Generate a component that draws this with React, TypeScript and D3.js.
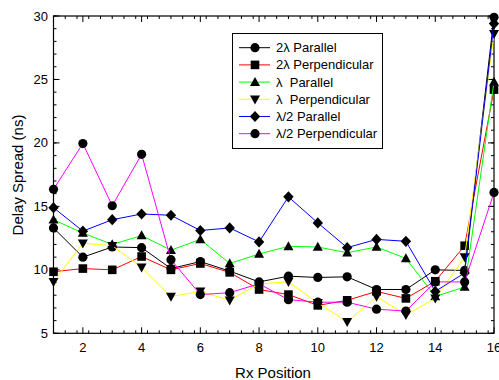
import React from "react";
import * as d3 from "d3";

const positions = [1, 2, 3, 4, 5, 6, 7, 8, 9, 10, 11, 12, 13, 14, 15, 16];
const par2 = [13.3, 11.0, 11.8, 11.75, 10.1, 10.65, 9.9, 9.05, 9.5, 9.4, 9.45, 8.45, 8.45, 10.0, 9.95, 29.9];
const perp2 = [9.85, 10.1, 10.0, 11.05, 10.0, 10.5, 9.8, 8.45, 8.05, 7.2, 7.6, 8.3, 7.75, 9.1, 11.9, 24.2];
const par1 = [13.95, 12.9, 12.0, 12.7, 11.55, 12.4, 10.5, 11.25, 11.85, 11.8, 11.35, 11.8, 10.9, 7.9, 8.65, 24.8];
const perp1 = [9.05, 12.1, 11.9, 10.2, 7.9, 8.3, 7.6, 8.9, 9.05, 7.4, 5.9, 7.9, 6.45, 7.75, 11.0, 28.6];
const parHalf = [14.9, 13.05, 13.95, 14.4, 14.3, 13.1, 13.3, 12.2, 15.75, 13.7, 11.75, 12.4, 12.25, 8.3, 9.75, 29.4];
const perpHalf = [16.35, 19.95, 15.05, 19.1, 10.8, 8.05, 8.2, 8.9, 7.65, 7.45, 7.45, 6.9, 6.75, 9.05, 9.05, 16.1];

const seriesNames = ["2λ Parallel", "2λ Perpendicular", "λ  Parallel", "λ  Perpendicular", "λ/2 Parallel", "λ/2 Perpendicular"];
const seriesValues = [par2, perp2, par1, perp1, parHalf, perpHalf];
const seriesColors = ["#000000", "#ff0000", "#00ff00", "#ffff00", "#0000ff", "#ff00ff"];
const seriesMarkers = ["circle", "square", "triUp", "triDown", "diamond", "circle"];

const xTicks = [2, 4, 6, 8, 10, 12, 14, 16];
const yTicks = [5, 10, 15, 20, 25, 30];

const L = 53.5, R = 494, T = 16, B = 333.3;

function markerPath(kind: string): string {
  switch (kind) {
    case "circle":
      return "M4.6,0A4.6,4.6 0 1,1 -4.6,0A4.6,4.6 0 1,1 4.6,0Z";
    case "square":
      return "M-4.3,-4.3H4.3V4.3H-4.3Z";
    case "triUp":
      return "M0,-5.2L5,3.8L-5,3.8Z";
    case "triDown":
      return "M0,5.2L5,-3.8L-5,-3.8Z";
    case "diamond":
      return "M0,-5.6L5.2,0L0,5.6L-5.2,0Z";
  }
  return "";
}

export default function App() {
  const x = d3.scaleLinear().domain([1, 16]).range([L, R]);
  const y = d3.scaleLinear().domain([5, 30]).range([B, T]);
  const line = d3
    .line<number>()
    .x((_, i) => x(positions[i]))
    .y((v) => y(v));

  const xMinor = d3.range(1, 16.0001, 0.4).map((v) => +v.toFixed(2));
  const yMinor = d3.range(5, 30.0001, 1);
  const font = "Arial, 'Liberation Sans', sans-serif";

  const legX = 232.5, legY = 33.5, legW = 150, legH = 115;
  const rowY = (i: number) => 47.7 + i * 17.2;

  return (
    <svg width={499} height={380} style={{ position: "absolute", left: 0, top: 0 }} fontFamily={font}>
      <rect x={0} y={0} width={499} height={380} fill="#fff" />
      {/* frame */}
      <rect x={L} y={T} width={R - L} height={B - T} fill="none" stroke="#000" strokeWidth={1.2} />
      {/* x ticks */}
      {xMinor.map((v, i) => (
        <g key={"xm" + i}>
          <line x1={x(v)} x2={x(v)} y1={B} y2={B - 3} stroke="#000" />
          <line x1={x(v)} x2={x(v)} y1={T} y2={T + 3} stroke="#000" />
        </g>
      ))}
      {xTicks.map((v) => (
        <g key={"xt" + v}>
          <line x1={x(v)} x2={x(v)} y1={B} y2={B - 6} stroke="#000" />
          <line x1={x(v)} x2={x(v)} y1={T} y2={T + 6} stroke="#000" />
          <text x={x(v)} y={352} fontSize={13} textAnchor="middle" fill="#000">
            {v}
          </text>
        </g>
      ))}
      {/* y ticks */}
      {yMinor.map((v, i) => (
        <g key={"ym" + i}>
          <line x1={L} x2={L + 3} y1={y(v)} y2={y(v)} stroke="#000" />
          <line x1={R} x2={R - 3} y1={y(v)} y2={y(v)} stroke="#000" />
        </g>
      ))}
      {yTicks.map((v) => (
        <g key={"yt" + v}>
          <line x1={L} x2={L + 6} y1={y(v)} y2={y(v)} stroke="#000" />
          <line x1={R} x2={R - 6} y1={y(v)} y2={y(v)} stroke="#000" />
          <text x={48} y={y(v) + 4.5} fontSize={13} textAnchor="end" fill="#000">
            {v}
          </text>
        </g>
      ))}
      {/* axis titles */}
      <text x={273} y={378} fontSize={15} textAnchor="middle" fill="#000">
        Rx Position
      </text>
      <text transform={`translate(23,175) rotate(-90)`} fontSize={15} textAnchor="middle" fill="#000">
        Delay Spread (ns)
      </text>
      {/* series */}
      {seriesValues.map((vals, s) => (
        <g key={"s" + s}>
          <path d={line(vals) || ""} fill="none" stroke={seriesColors[s]} strokeWidth={1} />
          {vals.map((v, i) => (
            <path key={i} d={markerPath(seriesMarkers[s])} transform={`translate(${x(positions[i])},${y(v)})`} fill="#000" />
          ))}
        </g>
      ))}
      {/* legend */}
      <rect x={legX} y={legY} width={legW} height={legH} fill="#fff" stroke="#000" strokeWidth={1} />
      {seriesNames.map((name, i) => (
        <g key={"l" + i}>
          <line x1={239} x2={270} y1={rowY(i)} y2={rowY(i)} stroke={seriesColors[i]} strokeWidth={1} />
          <path d={markerPath(seriesMarkers[i])} transform={`translate(255,${rowY(i)})`} fill="#000" />
          <text x={276} y={rowY(i) + 4.5} fontSize={13} fill="#000" style={{ whiteSpace: "pre" }}>
            {name}
          </text>
        </g>
      ))}
    </svg>
  );
}
